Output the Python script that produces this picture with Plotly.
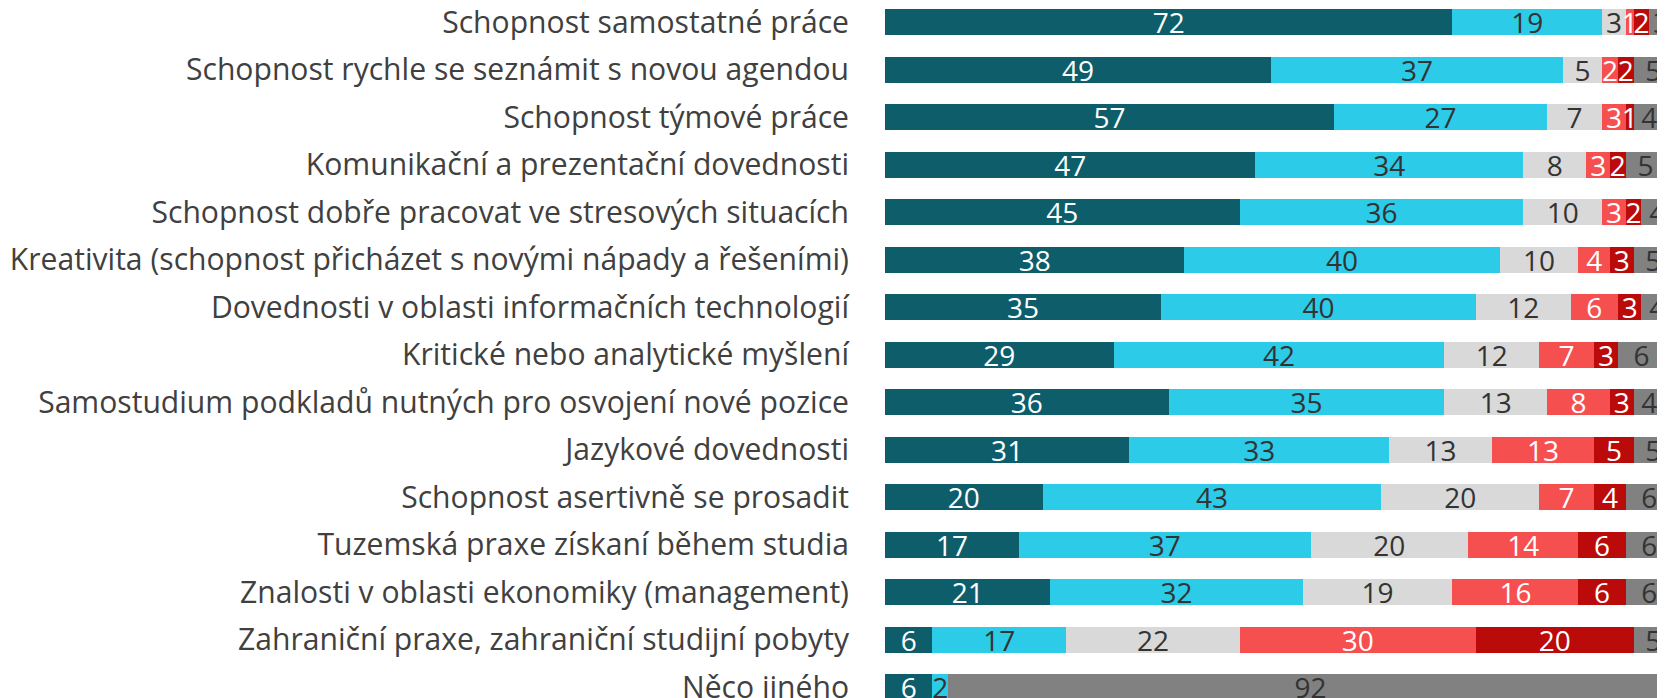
import plotly.graph_objects as go

categories = [
    "Schopnost samostatné práce",
    "Schopnost rychle se seznámit s novou agendou",
    "Schopnost týmové práce",
    "Komunikační a prezentační dovednosti",
    "Schopnost dobře pracovat ve stresových situacích",
    "Kreativita (schopnost přicházet s novými nápady a řešeními)",
    "Dovednosti v oblasti informačních technologií",
    "Kritické nebo analytické myšlení",
    "Samostudium podkladů nutných pro osvojení nové pozice",
    "Jazykové dovednosti",
    "Schopnost asertivně se prosadit",
    "Tuzemská praxe získaní během studia",
    "Znalosti v oblasti ekonomiky (management)",
    "Zahraniční praxe, zahraniční studijní pobyty",
    "Něco jiného",
]

s1 = [72, 49, 57, 47, 45, 38, 35, 29, 36, 31, 20, 17, 21, 6, 6]
s2 = [19, 37, 27, 34, 36, 40, 40, 42, 35, 33, 43, 37, 32, 17, 2]
s3 = [3, 5, 7, 8, 10, 10, 12, 12, 13, 13, 20, 20, 19, 22, 0]
s4 = [1, 2, 3, 3, 3, 4, 6, 7, 8, 13, 7, 14, 16, 30, 0]
s5 = [2, 2, 1, 2, 2, 3, 3, 3, 3, 5, 4, 6, 6, 20, 0]
s6 = [3, 5, 4, 5, 4, 5, 4, 6, 4, 5, 6, 6, 6, 5, 92]

series = [s1, s2, s3, s4, s5, s6]
colors = ["#0d5d6b", "#2ccbe8", "#d9d9d9", "#f64f4f", "#bb0a0a", "#818181"]
text_colors = ["#ffffff", "#333333", "#333333", "#ffffff", "#ffffff", "#333333"]

FONT = "Open Sans"
fig = go.Figure()
for vals, c, tc in zip(series, colors, text_colors):
    fig.add_trace(go.Bar(
        y=categories, x=vals, orientation="h",
        marker=dict(color=c, line=dict(width=0)),
        text=[str(v) if v else "" for v in vals],
        textposition="inside", insidetextanchor="middle", textangle=0,
        textfont=dict(color=tc, size=28, family=FONT),
        hoverinfo="skip",
    ))

fig.update_layout(
    barmode="stack",
    width=1665, height=698,
    margin=dict(l=877, r=0, t=0, b=0),
    plot_bgcolor="white", paper_bgcolor="white",
    showlegend=False,
    bargap=0.45,
    uniformtext=dict(minsize=28, mode="show"),
    font=dict(family=FONT, color="#404040"),
)
fig.update_xaxes(range=[0, 100], visible=False, showgrid=False, automargin=False)
fig.update_yaxes(
    categoryorder="array", categoryarray=categories,
    range=[14.394, -0.301], autorange=False, automargin=False,
    ticks="", showgrid=False, showline=False, zeroline=False,
    tickfont=dict(size=30.1, family=FONT, color="#404040"),
    ticklabelstandoff=35,
)

fig.write_html("out.html")
